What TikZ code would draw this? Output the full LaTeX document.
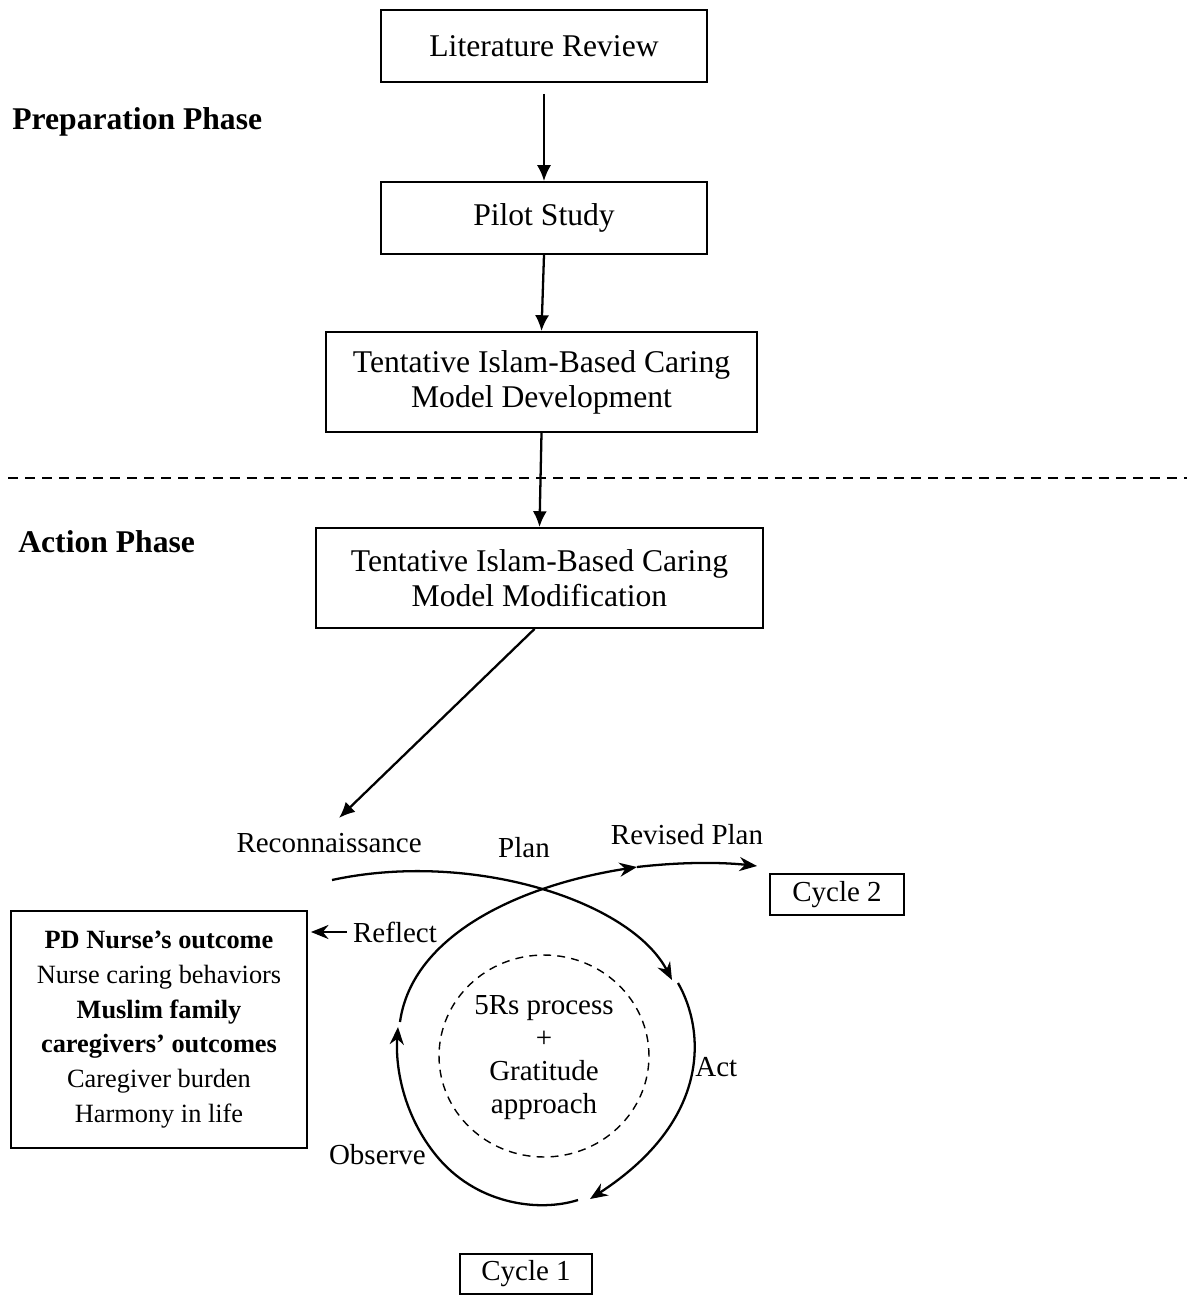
\documentclass[tikz,border=0pt]{standalone}
\usepackage{fontspec}
\setmainfont{Liberation Serif}
\usepackage{tikz}
\usetikzlibrary{shapes.geometric}
\usetikzlibrary{arrows.meta}
\tikzstyle{stage} = [rectangle, draw=black, line width=1.1pt, text centered, align=center, inner sep=0pt]
\tikzstyle{arrow} = [line width=1.3pt, -{Latex[length=9pt,width=8pt]}]
\tikzstyle{cyc} = [line width=1.3pt, -{Stealth[length=10pt,width=8pt]}]
\tikzstyle{phase} = [font=\fontsize{18}{20}\selectfont\bfseries, anchor=west, inner sep=0pt]
\tikzstyle{lbl} = [inner sep=0pt, font=\fontsize{16.5}{19}\selectfont]

\begin{document}
\begin{tikzpicture}[x=0.02cm, y=-0.02cm, font=\fontsize{18}{20}\selectfont]
  \useasboundingbox (0,0) rectangle (1187,1295);

  % preparation phase
  \node(lit)[stage, minimum width=6.52cm, minimum height=1.44cm] at (544,46) {Literature Review};
  \node(pilot)[stage, minimum width=6.52cm, minimum height=1.44cm] at (544,218) {Pilot Study};
  \node(dev)[stage, minimum width=8.62cm, minimum height=2cm] at (541.5,382) {Tentative Islam-Based Caring\\Model Development};
  \node(prep)[phase] at (12,122) {Preparation Phase};

  \draw[line width=0.8pt, dash pattern=on 5.7pt off 4pt] (8,478) -- (1187,478);

  % action phase
  \node(action)[phase] at (18,542) {Action Phase};
  \node(mod)[stage, minimum width=8.94cm, minimum height=2cm] at (539.5,578) {Tentative Islam-Based Caring\\Model Modification};

  \draw[arrow] ([yshift=-0.22cm]lit.south) -- (pilot.north);
  \draw[arrow] (pilot.south) -- (dev.north);
  \draw[arrow] (dev.south) -- (mod.north);

  % cycle labels
  \node(recon)[lbl, anchor=east] at (422,843) {Reconnaissance};
  \node(plan)[lbl] at (524,848) {Plan};
  \node(revised)[lbl] at (687,835) {Revised Plan};
  \node(reflect)[lbl] at (395,932) {Reflect};
  \node(act)[lbl, anchor=west] at (695,1067) {Act};
  \node(observe)[lbl, anchor=east] at (426,1155) {Observe};

  \node(cyc2)[stage, lbl, draw=black, inner sep=0pt, minimum width=2.68cm, minimum height=0.82cm] at (837,894.5) {Cycle 2};
  \node(cyc1)[stage, lbl, draw=black, inner sep=0pt, minimum width=2.64cm, minimum height=0.8cm] at (526,1274) {Cycle 1};

  \node(outcome)[stage, minimum width=5.92cm, minimum height=4.74cm, font=\fontsize{15}{19.8}\selectfont] at (159,1029.5)
    {\textbf{PD Nurse’s outcome}\\Nurse caring behaviors\\\textbf{Muslim family}\\\textbf{caregivers’ outcomes}\\Caregiver burden\\Harmony in life};

  \node(core)[ellipse, draw=black, line width=0.8pt, dash pattern=on 4.5pt off 3.5pt,
    minimum width=4.2cm, minimum height=4.04cm, inner sep=0pt] at (544,1056) {};
  \node(corelabel)[lbl, align=center, font=\fontsize{16.5}{18.8}\selectfont] at (544,1058) {5Rs process\\+\\Gratitude\\approach};

  \draw[arrow] ([xshift=-0.1cm]mod.south) -- ([xshift=0.2cm,yshift=0.3cm]recon.north);
  \draw[cyc] ([xshift=-0.12cm]reflect.west) -- ([xshift=0.06cm]outcome.east |- reflect.west);

  % the cycle
  \coordinate (planS) at (332,880);
  \coordinate (planE) at (672,980);
  \coordinate (actS) at (678,983);
  \coordinate (actE) at (590,1199);
  \coordinate (obsS) at (578,1200);
  \coordinate (obsE) at (398,1027);
  \coordinate (refS) at (400,1022);
  \coordinate (refE) at (637,867);
  \coordinate (nextE) at (757,866);

  \draw[cyc] (planS) .. controls (470,850) and (630,900) .. (planE);
  \draw[cyc] (actS) .. controls (705,1030) and (712,1120) .. (actE);
  \draw[cyc] (obsS) .. controls (540,1212) and (480,1205) .. (440,1160)
                    .. controls (405,1120) and (395,1070) .. (obsE);
  \draw[cyc] (refS) .. controls (412,935) and (520,885) .. (refE);
  \draw[cyc] (refE) .. controls (680,862) and (720,862) .. (nextE);

\end{tikzpicture}
\end{document}
